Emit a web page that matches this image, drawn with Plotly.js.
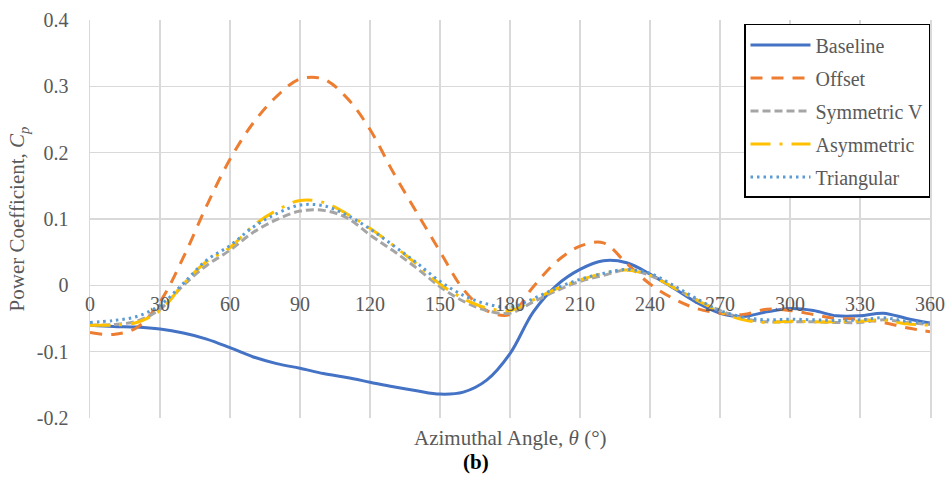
<!DOCTYPE html>
<html>
<head>
<meta charset="utf-8">
<script src="https://cdn.plot.ly/plotly-3.0.1.min.js"></script>
<style>html,body{margin:0;padding:0;background:#fff;}#chart{width:952px;height:482px;}</style>
</head>
<body>
<div id="chart"></div>
<script>
const angle = [0,10,20,30,40,50,60,70,80,90,100,110,120,130,140,150,160,170,180,190,200,210,220,230,240,250,260,270,280,290,300,310,320,330,340,350,360];
const baseline = [-0.060,-0.062,-0.063,-0.066,-0.072,-0.081,-0.094,-0.108,-0.118,-0.125,-0.133,-0.139,-0.146,-0.153,-0.159,-0.164,-0.161,-0.143,-0.103,-0.040,0.000,0.024,0.037,0.034,0.017,-0.004,-0.026,-0.042,-0.047,-0.040,-0.035,-0.038,-0.046,-0.046,-0.042,-0.050,-0.057];
const offset = [-0.071,-0.074,-0.064,-0.025,0.042,0.120,0.190,0.245,0.285,0.311,0.311,0.283,0.235,0.170,0.110,0.051,-0.006,-0.038,-0.044,-0.002,0.036,0.059,0.064,0.033,0.002,-0.020,-0.035,-0.042,-0.044,-0.036,-0.038,-0.044,-0.050,-0.051,-0.056,-0.064,-0.070];
const symmetricV = [-0.060,-0.059,-0.054,-0.036,0.000,0.030,0.053,0.080,0.099,0.112,0.113,0.102,0.076,0.052,0.026,-0.002,-0.024,-0.038,-0.042,-0.025,-0.008,0.006,0.015,0.023,0.015,-0.003,-0.022,-0.038,-0.050,-0.055,-0.055,-0.055,-0.056,-0.056,-0.052,-0.056,-0.059];
const asymmetric = [-0.060,-0.060,-0.056,-0.038,0.002,0.036,0.057,0.090,0.113,0.128,0.125,0.108,0.086,0.060,0.032,0.002,-0.020,-0.034,-0.038,-0.022,-0.005,0.008,0.018,0.023,0.015,-0.003,-0.022,-0.040,-0.052,-0.056,-0.054,-0.055,-0.055,-0.054,-0.052,-0.058,-0.060];
const triangular = [-0.056,-0.053,-0.047,-0.030,0.003,0.038,0.060,0.088,0.108,0.121,0.120,0.106,0.085,0.060,0.034,0.006,-0.015,-0.028,-0.033,-0.020,-0.004,0.009,0.018,0.024,0.018,0.000,-0.020,-0.038,-0.048,-0.052,-0.051,-0.052,-0.053,-0.052,-0.049,-0.054,-0.057];
const xTicks = [0,30,60,90,120,150,180,210,240,270,300,330,360];
const yTicks = [-0.2,-0.1,0,0.1,0.2,0.3,0.4];
const yTickText = ['-0.2','-0.1','0','0.1','0.2','0.3','0.4'];

const series = [
  {name:'Baseline', y:baseline, color:'#4472C4', dash:'solid', width:3},
  {name:'Offset', y:offset, color:'#ED7D31', dash:'12px,9px', width:3},
  {name:'Symmetric V', y:symmetricV, color:'#A5A5A5', dash:'8px,4px', width:3},
  {name:'Asymmetric', y:asymmetric, color:'#FFC000', dash:'20px,9px,3px,9px', width:3},
  {name:'Triangular', y:triangular, color:'#5B9BD5', dash:'2.5px,4px', width:3}
];
const traces = series.map(s => ({
  x: angle, y: s.y, name: s.name, type: 'scatter', mode: 'lines',
  legendgroup: s.name,
  line: {color: s.color, dash: s.dash, width: s.width, shape: 'spline', smoothing: 1}
}));

const fontFam = 'Liberation Serif';
const gray = '#595959';
const layout = {
  width: 952, height: 482,
  margin: {l: 90, r: 22, t: 20, b: 64},
  paper_bgcolor: '#fff', plot_bgcolor: '#fff',
  font: {family: fontFam, size: 20, color: gray},
  showlegend: true,
  xaxis: {
    range: [0, 360], tickvals: xTicks, ticktext: xTicks.map(String),
    anchor: 'free', position: 1/3,
    showgrid: true, gridcolor: '#D9D9D9', gridwidth: 1.5,
    zeroline: false, showline: false, ticks: '', ticklabelstandoff: 5,
    tickfont: {family: fontFam, size: 20, color: gray}
  },
  yaxis: {
    range: [-0.2, 0.4], tickvals: yTicks, ticktext: yTickText,
    showgrid: true, gridcolor: '#D9D9D9', gridwidth: 1.5,
    zeroline: true, zerolinecolor: '#D9D9D9', zerolinewidth: 1.5,
    showline: true, linecolor: '#D9D9D9', linewidth: 1.5, mirror: true,
    ticks: '', ticklabelstandoff: 16,
    tickfont: {family: fontFam, size: 20, color: gray},
    title: {text: 'Power Coefficient, <i>C<sub>p</sub></i>', font: {family: fontFam, size: 21, color: gray}, standoff: 6},
    automargin: false
  },
  legend: {
    x: 1, xanchor: 'right', y: 0.99, yanchor: 'top',
    bgcolor: '#fff', bordercolor: '#000', borderwidth: 1.5,
    font: {family: fontFam, size: 20, color: gray},
    itemwidth: 60, tracegroupgap: 4
  },
  annotations: [
    {text: 'Azimuthal Angle, <i>θ</i> (°)', xref: 'paper', yref: 'paper', x: 0.5, y: -0.05, xanchor: 'center', yanchor: 'middle', showarrow: false, font: {family: fontFam, size: 21, color: gray}},
    {text: '<b>(b)</b>', xref: 'paper', yref: 'paper', x: 0.4595, y: -0.1106, xanchor: 'center', yanchor: 'middle', showarrow: false, font: {family: fontFam, size: 21, color: '#000'}}
  ]
};
Plotly.newPlot('chart', traces, layout, {displayModeBar: false, staticPlot: true});
</script>
</body>
</html>
